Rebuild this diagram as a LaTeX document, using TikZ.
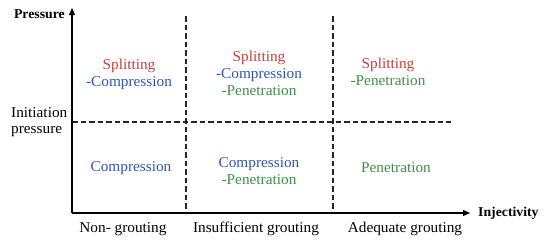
\documentclass[tikz,border=0pt]{standalone}
\usepackage{fontspec}
\setmainfont[FakeStretch=1.02]{Liberation Serif}
\usetikzlibrary{arrows.meta}
\definecolor{tred}{RGB}{196,64,58}
\definecolor{tblue}{RGB}{48,84,172}
\definecolor{tgreen}{RGB}{62,142,70}
\begin{document}
\begin{tikzpicture}[x=1pt,y=-1pt,
  lbl/.style={font=\fontsize{15}{17}\selectfont, inner sep=0pt, align=center},
  axlbl/.style={font=\fontsize{13.5}{15}\selectfont\bfseries, inner sep=0pt},
  axis/.style={line width=1.2pt, -{Triangle[length=7pt,width=6pt]}},
  divider/.style={line width=1.1pt, black!85, dash pattern=on 5.5pt off 3pt}]
\useasboundingbox (0,0) rectangle (550,244);
\coordinate (O) at (72,213);
\coordinate (ytop) at (72,8);
\coordinate (xend) at (470,213);
\coordinate (v1t) at (186,16);
\coordinate (v1b) at (186,213);
\coordinate (v2t) at (333,16);
\coordinate (v2b) at (333,213);
\coordinate (hl) at (72,122);
\coordinate (hr) at (451,122);
\draw[divider] (v1t) -- (v1b);
\draw[divider] (v2t) -- (v2b);
\draw[divider] (hl) -- (hr);
\draw[axis] (O) -- (ytop);
\draw[axis] (O) -- (xend);
\node[axlbl, anchor=east] (py) at (65,14) {Pressure};
\node[axlbl, anchor=west] (px) at (478,213) {Injectivity};
\node[lbl, anchor=west, align=left, font=\fontsize{15}{15.5}\selectfont] (init) at (11,122) {Initiation\\pressure};
\node[lbl] (q1) at (129,74) {\textcolor{tred}{Splitting}\\\textcolor{tblue}{-Compression}};
\node[lbl] (q2) at (259,73) {\textcolor{tred}{Splitting}\\\textcolor{tblue}{-Compression}\\\textcolor{tgreen}{-Penetration}};
\node[lbl] (q3) at (388,72) {\textcolor{tred}{Splitting}\\\textcolor{tgreen}{-Penetration}};
\node[lbl] (q4) at (131,168) {\textcolor{tblue}{Compression}};
\node[lbl] (q5) at (259,171) {\textcolor{tblue}{Compression}\\\textcolor{tgreen}{-Penetration}};
\node[lbl] (q6) at (396,168) {\textcolor{tgreen}{Penetration}};
\node[lbl] (b1) at (123,229) {Non- grouting};
\node[lbl] (b2) at (256,229) {Insufficient grouting};
\node[lbl] (b3) at (405,229) {Adequate grouting};
\end{tikzpicture}
\end{document}
